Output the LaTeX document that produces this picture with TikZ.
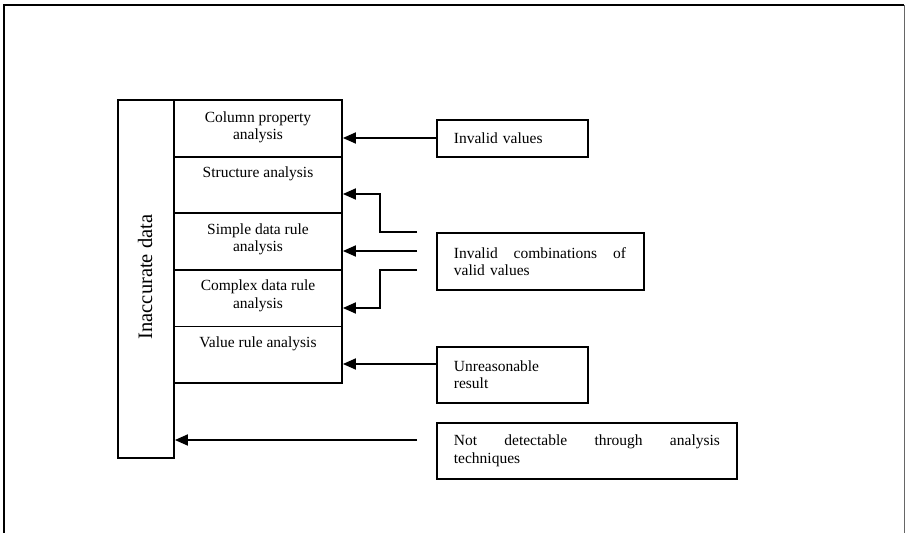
\documentclass[tikz,border=0pt]{standalone}
\usepackage{fontspec}
\setmainfont{Liberation Serif}
\usetikzlibrary{arrows.meta}
\tikzset{
  box/.style={draw=black, line width=1.8pt, rectangle, inner sep=0pt},
  cell/.style={box, minimum width=168pt},
  txt/.style={font=\fontsize{15.5}{17.5}\selectfont},
  celltext/.style={txt, anchor=north, align=center, inner sep=0pt},
  srcbox/.style={box, txt, anchor=north west, inner xsep=17pt, align=left},
  arr/.style={line width=1.8pt, -{Triangle[length=13pt,width=11pt]}},
}
\begin{document}
\begin{tikzpicture}[x=1pt,y=-1pt]
\useasboundingbox (0,0) rectangle (906,533);
% frame
\draw[line width=2.6pt] (4,533) -- (4,5) -- (904,5);
\draw[line width=0.8pt, black!60] (904,5) -- (904,533);
% tall box
\node[box, minimum width=56pt, minimum height=358pt] (inacc) at (146,279) {};
\node[rotate=90, inner sep=0pt, font=\fontsize{20.5}{22}\selectfont] (inacctext) at (145,277) {Inaccurate data};
% cells
\node[cell, minimum height=56.6pt] (c1) at (258,128.3) {};
\node[cell, minimum height=56.6pt] (c2) at (258,184.9) {};
\node[cell, minimum height=56.6pt] (c3) at (258,241.5) {};
\node[cell, minimum height=56.6pt] (c4) at (258,298.1) {};
\node[cell, minimum height=56.6pt] (c5) at (258,354.7) {};
\node[celltext] (t1) at ([yshift=-12pt]c1.north) {Column property\\analysis};
\node[celltext] (t2) at ([yshift=-11pt]c2.north) {Structure analysis};
\node[celltext] (t3) at ([yshift=-11pt]c3.north) {Simple data rule\\analysis};
\node[celltext] (t4) at ([yshift=-11pt]c4.north) {Complex data rule\\analysis};
\node[celltext] (t5) at ([yshift=-11pt]c5.north) {Value rule analysis};
% source boxes
\node[srcbox, minimum width=151pt, minimum height=37pt, text width=117pt] (iv) at (436,119) {Invalid values};
\node[srcbox, minimum width=207pt, minimum height=57pt, text width=173pt] (ic) at (436,232) {\hbox to 172pt{Invalid\hfill combinations\hfill of}\\valid values};
\node[srcbox, minimum width=151pt, minimum height=56pt, text width=117pt] (ur) at (436,346) {Unreasonable\\result};
\node[srcbox, minimum width=300pt, minimum height=56pt, text width=266pt] (nd) at (436,422) {\hbox to 266pt{Not\hfill detectable\hfill through\hfill analysis}\\techniques};
% free ends
\coordinate (s1) at (417,232);
\coordinate (s2) at (417,251);
\coordinate (s3) at (417,270);
\coordinate (s4) at (417,440);
\coordinate (y1) at (0,138);
\coordinate (y2) at (0,194);
\coordinate (y4) at (0,308);
\coordinate (y5) at (0,364);
% connectors
\draw[arr] (iv.west |- y1) -- (c1.east |- y1);
\draw[arr] (s1) -- ++(-37,0) |- (c2.east |- y2);
\draw[arr] (s2) -- (c3.east |- s2);
\draw[arr] (s3) -- ++(-37,0) |- (c4.east |- y4);
\draw[arr] (ur.west |- y5) -- (c5.east |- y5);
\draw[arr] (s4) -- (inacc.east |- s4);
\end{tikzpicture}
\end{document}
